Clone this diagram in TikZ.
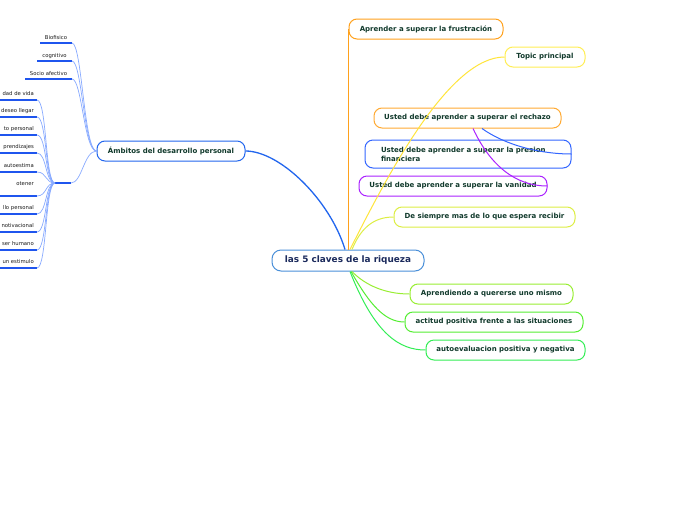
\documentclass[tikz,border=0pt]{standalone}
\usepackage{fontspec}
\setmainfont{DejaVu Sans}
\usetikzlibrary{calc,backgrounds}
\definecolor{txt}{HTML}{113A2C}
\definecolor{navy}{HTML}{1B2A5C}
\definecolor{cMain}{HTML}{4A90D9}
\definecolor{cOrange}{HTML}{FFA11C}
\definecolor{cOrange2}{HTML}{FFAA33}
\definecolor{cYellow}{HTML}{FFEE55}
\definecolor{cYline}{HTML}{FFE53A}
\definecolor{cBlue}{HTML}{3366FF}
\definecolor{cPurple}{HTML}{AA22FF}
\definecolor{cYG1}{HTML}{DDEE44}
\definecolor{cYG2}{HTML}{99EE33}
\definecolor{cG1}{HTML}{55EE33}
\definecolor{cG2}{HTML}{33EE55}
\definecolor{cAmb}{HTML}{2266EE}
\definecolor{cUnder}{HTML}{1F55EE}
\definecolor{cThin}{HTML}{88AAFF}
\tikzset{
  topic/.style={draw, rounded corners=8pt, line width=1pt,
    minimum height=20pt, inner sep=0pt, text=txt,
    font=\fontsize{7}{9}\selectfont\bfseries},
  mainnode/.style={draw=cMain, rounded corners=9pt, line width=1pt, fill=white,
    minimum height=21pt, minimum width=152pt, inner sep=0pt, text=navy,
    font=\fontsize{8.9}{10}\selectfont\bfseries},
  leaftext/.style={inner sep=0pt, text=black!90, font=\fontsize{5.3}{6}\selectfont},
  under/.style={draw=cUnder, line width=1.3pt},
  thin/.style={draw=cThin, line width=0.7pt},
  conn/.style={line width=1pt}
}
\begin{document}
\begin{tikzpicture}[x=1pt,y=-1pt]
\useasboundingbox (0,0) rectangle (696,520);
\begin{scope}[on background layer]
  \fill[white] (0,0) rectangle (696,520);
\end{scope}

% central and main topics
\node[mainnode] (c) at (348,260.5) {las 5 claves de la riqueza};
\node[topic, draw=cOrange, minimum width=154pt] (fr) at (426,29) {Aprender a superar la frustración};
\node[topic, draw=cYellow, minimum width=80pt] (tp) at (545,57) {Topic principal};
\node[topic, draw=cOrange2, minimum width=187pt] (re) at (467.5,118) {Usted debe aprender a superar el rechazo};
\node[topic, draw=cBlue, minimum width=206pt, minimum height=28pt, text width=174pt, align=left, inner xsep=16pt] (pf) at (468,154) {Usted debe aprender a superar la presion\\financiera};
\node[topic, draw=cPurple, minimum width=188pt] (va) at (453,186) {Usted debe aprender a superar la vanidad};
\node[topic, draw=cYG1, minimum width=181pt] (ds) at (484.5,217) {De siempre mas de lo que espera recibir};
\node[topic, draw=cYG2, minimum width=163pt] (aq) at (491.5,294) {Aprendiendo a quererse uno mismo};
\node[topic, draw=cG1, minimum width=178pt] (ap) at (494,322) {actitud positiva frente a las situaciones};
\node[topic, draw=cG2, minimum width=159pt] (ae) at (505.5,350) {autoevaluacion positiva y negativa};
\node[topic, draw=cAmb, minimum width=148pt] (am) at (171,151) {Ámbitos del desarrollo personal};

% top-left leaves
\coordinate (t1e) at (72,43);
\coordinate (t2e) at (72,61);
\coordinate (t3e) at (72,79);
\node[leaftext, anchor=base] (t1) at (56,39) {Biofisico};
\node[leaftext, anchor=base] (t2) at (54.5,57) {cognitivo};
\node[leaftext, anchor=base] (t3) at (48.5,75) {Socio afectivo};
\draw[under] (t1e) -- ++(-32,0);
\draw[under] (t2e) -- ++(-35,0);
\draw[under] (t3e) -- ++(-47,0);

% hub
\coordinate (hubL) at (55,183);
\coordinate (hubR) at (71,183);
\draw[under] (hubL) -- (hubR);

% left leaves (clipped at picture edge)
\foreach \n/\y/\ty/\t in {1/100/95/dad de vida, 2/117/112/deseo llegar, 3/135/130/to personal,
   4/153/148/prendizajes, 5/172/167/autoestima, 6/196/185/otener, 7/214/209/llo personal,
   8/232/227/notivacional, 9/250/245/ser humano, 10/268/263/un estimulo}{
  \coordinate (l\n e) at (37,\y);
  \node[leaftext, anchor=base east] (l\n) at (34,\ty) {\t};
  \draw[under] (l\n e) -- ++(-40,0);
}

% connectors from center
\draw[conn, draw=cOrange, line width=1.2pt] (fr.west |- c.north) -- (fr.west);
\draw[conn, draw=cYline] ($(c.north)+(2,0)$) .. controls (390,170) and (450,57) .. (tp.west);
\draw[conn, draw=cYG1] ($(c.north)+(4,0)$) .. controls (360,230) and (372,217) .. (ds.west);
\draw[conn, draw=cYG2] ($(c.south)+(4,0)$) .. controls (365,285) and (385,294) .. (aq.west);
\draw[conn, draw=cG1] ($(c.south)+(3,0)$) .. controls (370,305) and (385,322) .. (ap.west);
\draw[conn, draw=cG2] ($(c.south)+(2,0)$) .. controls (375,335) and (400,350) .. (ae.west);
\draw[conn, draw=cAmb, line width=1.3pt] ($(c.north)+(-3,0)$) .. controls (330,200) and (280,151) .. (am.east);
% from rechazo
\draw[conn, draw=cBlue] ($(re.south)+(14.5,0)$) .. controls (505,145) and (540,154) .. (pf.east);
\draw[conn, draw=cPurple] ($(re.south)+(5.5,0)$) .. controls (490,165) and (515,186) .. (va.east);
% Ambitos to top-left leaves and hub
\draw[thin] (am.west) .. controls (84,151) and (82,43) .. (t1e);
\draw[thin] (am.west) .. controls (84,151) and (82,61) .. (t2e);
\draw[thin] (am.west) .. controls (84,151) and (82,79) .. (t3e);
\draw[thin] (am.west) .. controls (84,151) and (82,183) .. (hubR);
\foreach \n in {1,...,10}{
  \draw[thin] (hubL) .. controls (45,183) and (47,0 |- l\n e) .. (l\n e);
}
\end{tikzpicture}
\end{document}
